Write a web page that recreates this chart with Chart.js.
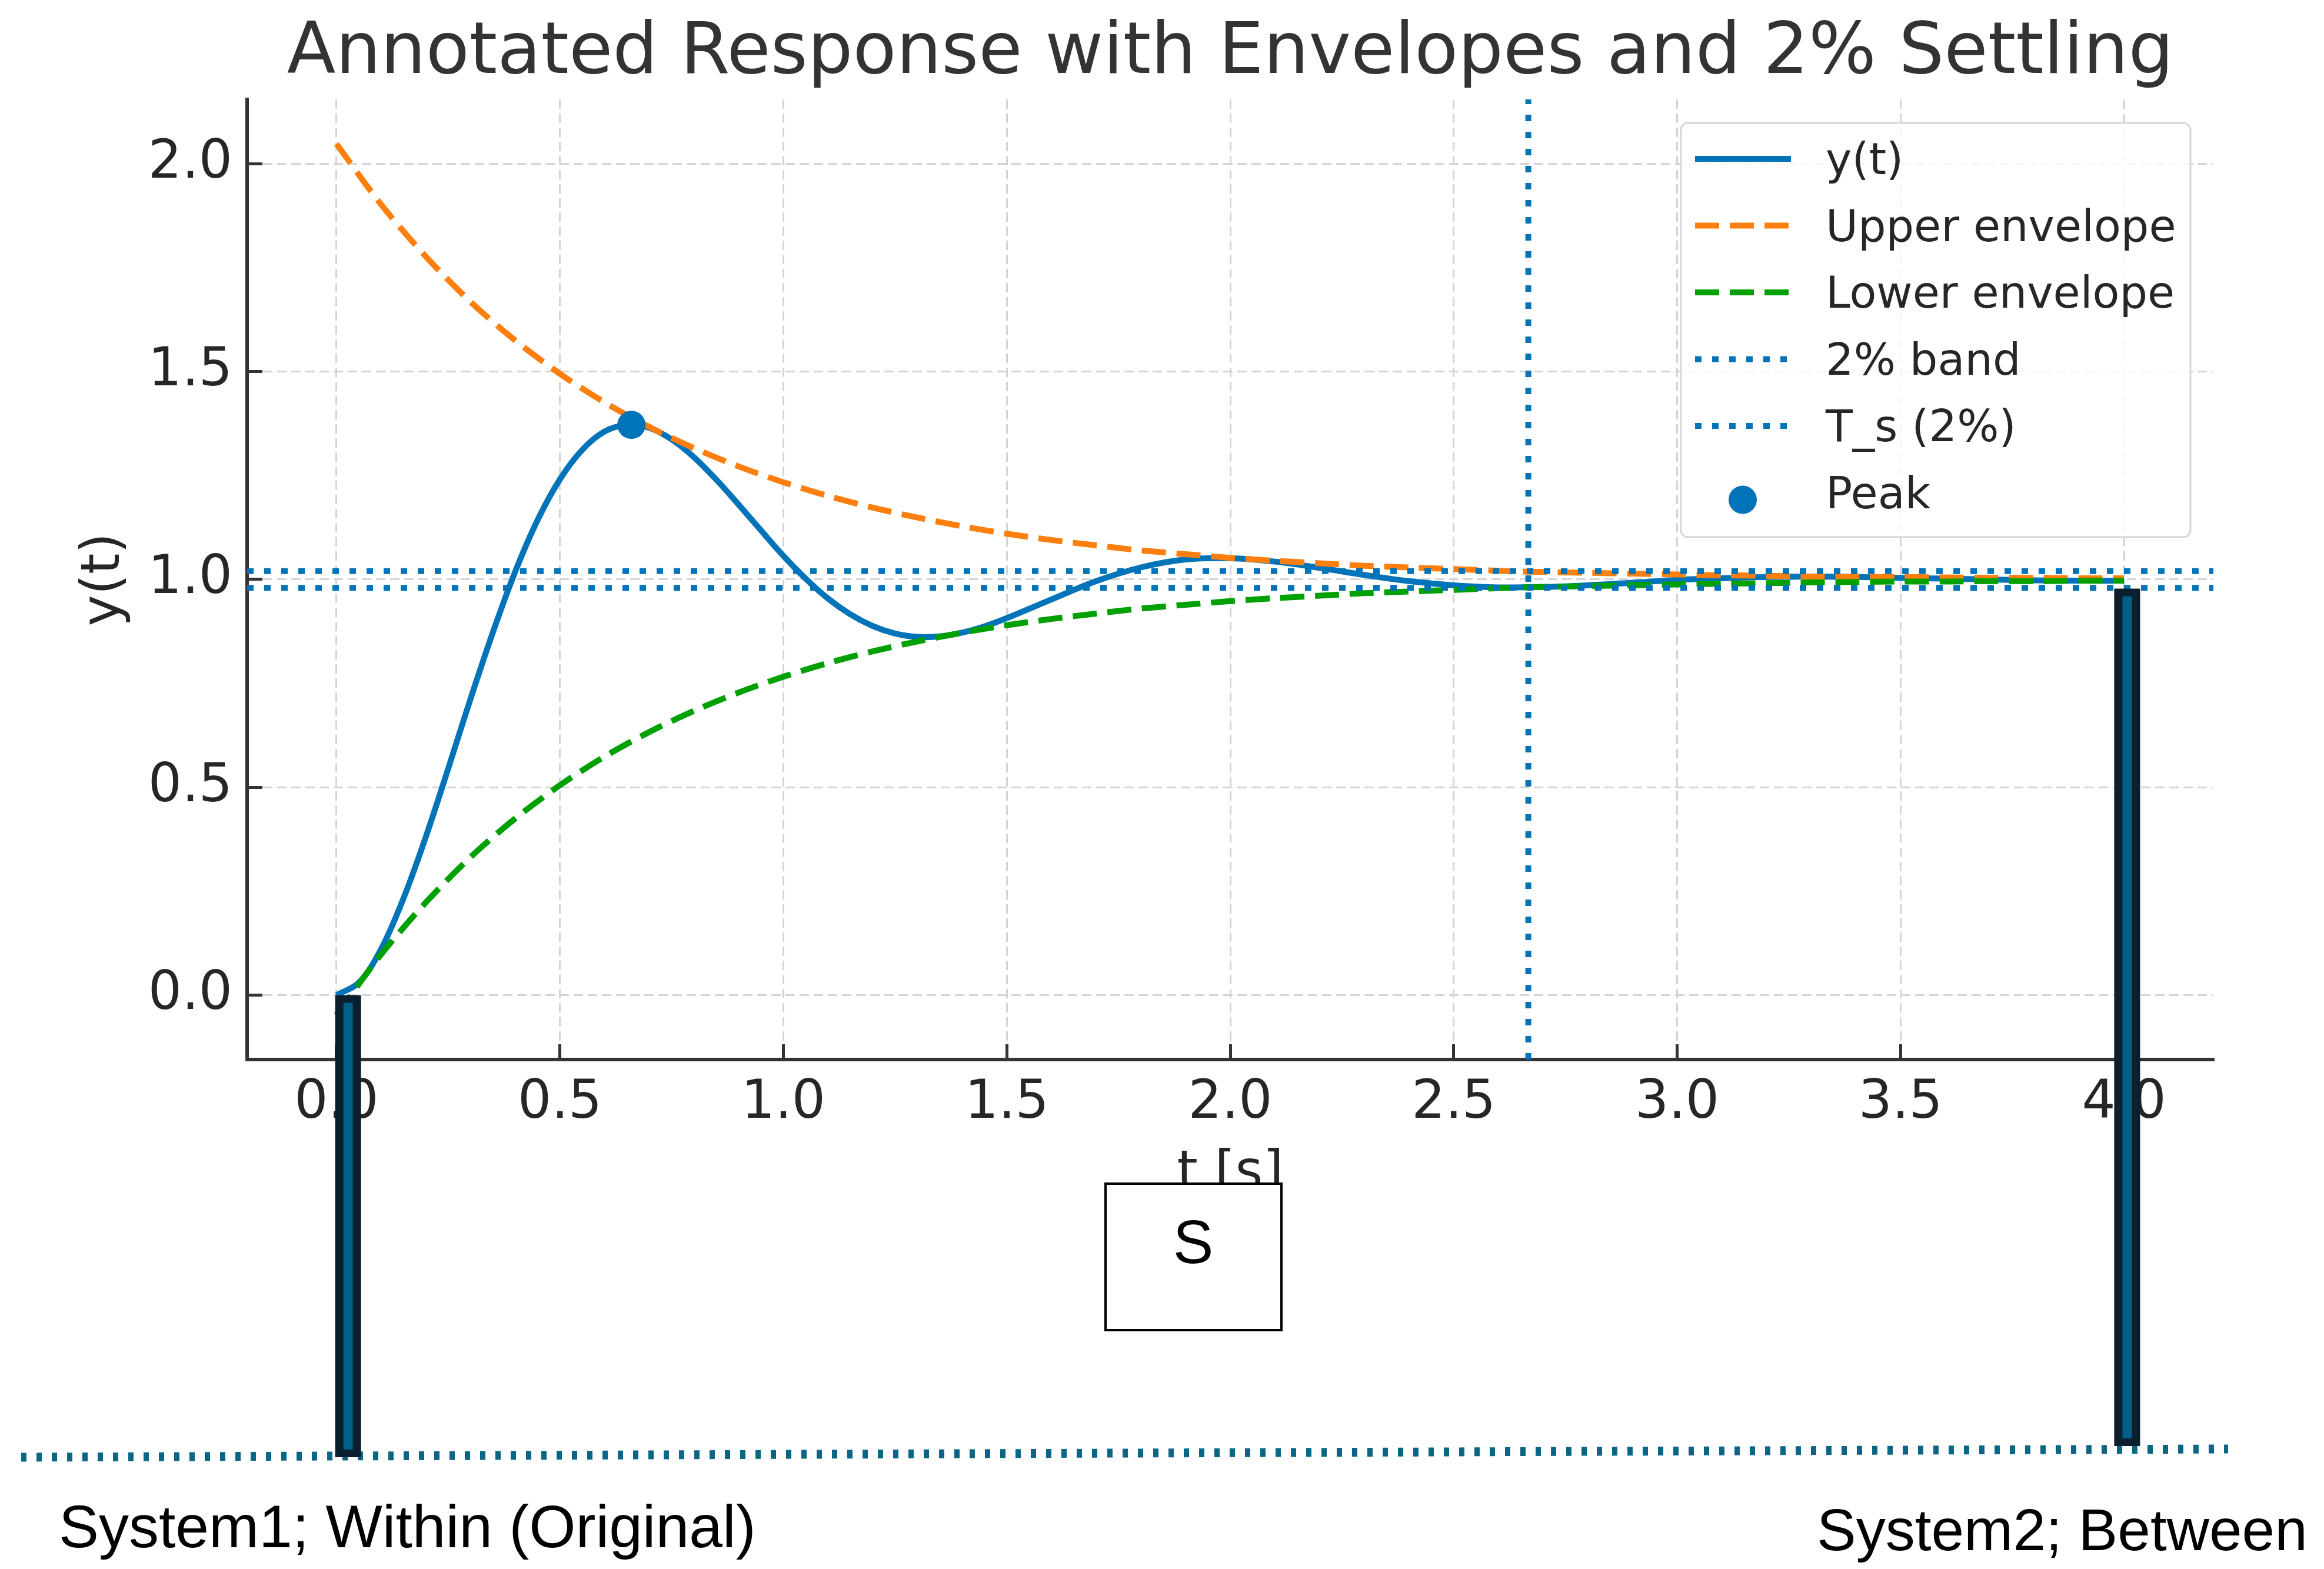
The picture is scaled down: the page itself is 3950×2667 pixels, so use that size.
<!DOCTYPE html>
<html>
<head>
<meta charset="utf-8">
<title>Annotated Response with Envelopes and 2% Settling</title>
<script src="https://cdn.jsdelivr.net/npm/chart.js@4.4.1/dist/chart.umd.min.js"></script>
<style>
  html, body { margin: 0; padding: 0; background: #fff; }
  canvas { display: block; }
</style>
</head>
<body>
<canvas id="chart" width="3950" height="2667"></canvas>
<script>
// response (finer steps where it bends hardest)
const tResp = [0.0, 0.05, 0.1, 0.15, 0.2, 0.25, 0.3, 0.35, 0.4, 0.45,
  0.5, 0.55, 0.6, 0.65, 0.7, 0.75, 0.8, 0.85, 0.9, 0.95,
  1.0, 1.05, 1.1, 1.15, 1.2, 1.25, 1.3, 1.35, 1.4, 1.45,
  1.5, 1.6, 1.7, 1.8, 1.9, 2.0, 2.1, 2.2, 2.3, 2.4,
  2.5, 2.6, 2.7, 2.8, 2.9, 3.0, 3.1, 3.2, 3.3, 3.4,
  3.5, 3.6, 3.7, 3.8, 3.9, 4.0];
const yValues = [0.000, 0.030, 0.111, 0.233, 0.381, 0.545, 0.713, 0.873, 1.019, 1.143,
  1.241, 1.312, 1.356, 1.372, 1.365, 1.337, 1.294, 1.240, 1.180, 1.118,
  1.057, 1.002, 0.954, 0.916, 0.888, 0.870, 0.862, 0.863, 0.872, 0.887,
  0.907, 0.952, 0.996, 1.029, 1.048, 1.051, 1.043, 1.028, 1.011, 0.996,
  0.986, 0.981, 0.982, 0.986, 0.992, 0.999, 1.003, 1.006, 1.007, 1.006,
  1.004, 1.002, 1.000, 0.998, 0.997, 0.997];

// envelopes (step 0.1 s)
const tEnv = [0.0, 0.1, 0.2, 0.3, 0.4, 0.5, 0.6, 0.7, 0.8, 0.9,
  1.0, 1.1, 1.2, 1.3, 1.4, 1.5, 1.6, 1.7, 1.8, 1.9,
  2.0, 2.1, 2.2, 2.3, 2.4, 2.5, 2.6, 2.7, 2.8, 2.9,
  3.0, 3.1, 3.2, 3.3, 3.4, 3.5, 3.6, 3.7, 3.8, 3.9, 4.0];
const upperEnv = [2.048, 1.902, 1.777, 1.668, 1.575, 1.495, 1.426, 1.367, 1.316, 1.272,
  1.234, 1.201, 1.173, 1.149, 1.128, 1.110, 1.095, 1.082, 1.070, 1.061,
  1.052, 1.045, 1.039, 1.033, 1.029, 1.025, 1.021, 1.018, 1.016, 1.014,
  1.012, 1.010, 1.009, 1.007, 1.006, 1.006, 1.005, 1.004, 1.004, 1.003, 1.003];
const lowerEnv = [-0.048, 0.098, 0.223, 0.332, 0.425, 0.505, 0.574, 0.633, 0.684, 0.728,
  0.766, 0.799, 0.827, 0.851, 0.872, 0.890, 0.905, 0.918, 0.930, 0.939,
  0.948, 0.955, 0.961, 0.967, 0.971, 0.975, 0.979, 0.982, 0.984, 0.986,
  0.988, 0.990, 0.991, 0.993, 0.994, 0.995, 0.995, 0.996, 0.996, 0.997, 0.997];
const bandLevels = [0.98, 1.02];
const settlingT = [2.667];
const peakT = [0.66];
const peakY = [1.372];

const xRange = [-0.2, 4.2];
const yRange = [-0.155, 2.155];
const xTicks = [0, 0.5, 1, 1.5, 2, 2.5, 3, 3.5, 4];
const yTicks = [0, 0.5, 1, 1.5, 2];

const BLUE = '#0173B8';
const ORANGE = '#FF7F0E';
const GREEN = '#00A000';
const GRID = '#d4d4d4';
const INK = '#262626';
const TITLE = 'Annotated Response with Envelopes and 2% Settling';

Chart.defaults.font.family = '"DejaVu Sans", sans-serif';

const toPoints = (xs, ys) => xs.map((x, i) => ({ x: x, y: ys[i] }));

// title centred over the axes, like matplotlib does it
const axesTitle = {
  id: 'axesTitle',
  afterDraw(chart) {
    const { ctx, chartArea } = chart;
    ctx.save();
    ctx.font = '121px "DejaVu Sans"';
    ctx.fillStyle = '#333';
    ctx.textAlign = 'center';
    ctx.textBaseline = 'alphabetic';
    ctx.fillText(TITLE, (chartArea.left + chartArea.right) / 2, 124);
    ctx.restore();
  }
};

// framed legend, upper right
const boxLegend = {
  id: 'boxLegend',
  afterDatasetsDraw(chart) {
    const ctx = chart.ctx;
    const items = chart.data.datasets.filter(d => d.label);
    ctx.save();
    ctx.beginPath();
    ctx.roundRect(2857, 209, 866, 704, 12);
    ctx.fillStyle = 'rgba(255,255,255,0.8)';
    ctx.fill();
    ctx.lineWidth = 3;
    ctx.strokeStyle = '#d6d6d6';
    ctx.stroke();

    ctx.font = '75px "DejaVu Sans"';
    ctx.textBaseline = 'middle';
    items.forEach((d, i) => {
      const cy = 270 + i * 113.5;
      if (d.showLine === false) {
        ctx.beginPath();
        ctx.arc(2962, cy + 12, d.pointRadius, 0, Math.PI * 2);
        ctx.fillStyle = d.pointBackgroundColor;
        ctx.fill();
      } else {
        ctx.beginPath();
        ctx.setLineDash(d.borderDash || []);
        ctx.lineWidth = d.borderWidth;
        ctx.strokeStyle = d.borderColor;
        ctx.moveTo(2881, cy);
        ctx.lineTo(3044, cy);
        ctx.stroke();
        ctx.setLineDash([]);
      }
      ctx.fillStyle = INK;
      ctx.fillText(d.label, 3103, cy + 7);
    });
    ctx.restore();
  }
};

// the extra marks pasted over the figure
const overlay = {
  id: 'overlay',
  afterDraw(chart) {
    const ctx = chart.ctx;
    const xs = chart.scales.x, ys = chart.scales.y;
    ctx.save();

    ctx.strokeStyle = '#0b6585';
    ctx.lineWidth = 15;
    ctx.setLineDash([9, 17]);
    ctx.beginPath();
    ctx.moveTo(36, 2477);
    ctx.lineTo(3787, 2463);
    ctx.stroke();
    ctx.setLineDash([]);

    [[0.026, 0, 2477], [4.007, 0.978, 2458]].forEach(([t, v, bottom]) => {
      const cx = xs.getPixelForValue(t);
      const ty = ys.getPixelForValue(v);
      ctx.fillStyle = '#0b1f2e';
      ctx.fillRect(cx - 22, ty, 44, bottom - ty);
      ctx.fillStyle = '#005f86';
      ctx.fillRect(cx - 8, ty + 13, 16, bottom - ty - 26);
    });

    ctx.fillStyle = '#fff';
    ctx.fillRect(1879, 2012, 299, 249);
    ctx.lineWidth = 4;
    ctx.strokeStyle = '#000';
    ctx.strokeRect(1879, 2012, 299, 249);

    ctx.fillStyle = '#000';
    ctx.textBaseline = 'alphabetic';
    ctx.textAlign = 'center';
    ctx.font = '103px "Liberation Sans"';
    ctx.fillText('S', 2028, 2147);

    ctx.textAlign = 'left';
    ctx.font = '102px "Liberation Sans"';
    ctx.fillText('System1; Within (Original)', 100, 2630);
    ctx.font = '100px "Liberation Sans"';
    ctx.fillText('System2; Between', 3088, 2635);
    ctx.restore();
  }
};

new Chart(document.getElementById('chart'), {
  type: 'line',
  data: {
    datasets: [
      {
        label: 'y(t)',
        data: toPoints(tResp, yValues),
        borderColor: BLUE,
        borderWidth: 10,
        pointRadius: 0,
        tension: 0.35,
        order: 6
      },
      {
        label: 'Upper envelope',
        data: toPoints(tEnv, upperEnv),
        borderColor: ORANGE,
        borderWidth: 10,
        borderDash: [41, 18],
        pointRadius: 0,
        tension: 0.3,
        order: 5
      },
      {
        label: 'Lower envelope',
        data: toPoints(tEnv, lowerEnv),
        borderColor: GREEN,
        borderWidth: 10,
        borderDash: [41, 18],
        pointRadius: 0,
        tension: 0.3,
        order: 4
      },
      {
        label: '2% band',
        data: [
          { x: xRange[0], y: bandLevels[1] }, { x: xRange[1], y: bandLevels[1] },
          { x: xRange[1], y: null },
          { x: xRange[0], y: bandLevels[0] }, { x: xRange[1], y: bandLevels[0] }
        ],
        borderColor: BLUE,
        borderWidth: 10,
        borderDash: [11, 18],
        pointRadius: 0,
        spanGaps: false,
        order: 3
      },
      {
        label: 'T_s (2%)',
        data: [{ x: settlingT[0], y: yRange[0] }, { x: settlingT[0], y: yRange[1] }],
        borderColor: BLUE,
        borderWidth: 10,
        borderDash: [11, 18],
        pointRadius: 0,
        order: 2
      },
      {
        label: 'Peak',
        data: toPoints(peakT, peakY),
        showLine: false,
        pointRadius: 24,
        pointBackgroundColor: BLUE,
        pointBorderWidth: 0,
        order: 1
      }
    ]
  },
  options: {
    responsive: false,
    maintainAspectRatio: false,
    devicePixelRatio: 1,
    animation: false,
    layout: { padding: { left: 0, right: 188, top: 169, bottom: 614 } },
    plugins: {
      legend: { display: false },
      tooltip: { enabled: false },
      title: { display: false }
    },
    scales: {
      x: {
        type: 'linear',
        min: xRange[0],
        max: xRange[1],
        afterBuildTicks: s => { s.ticks = xTicks.map(v => ({ value: v })); },
        afterFit: s => { s.height = 252; },
        ticks: {
          callback: v => Number(v).toFixed(1),
          color: INK,
          font: { size: 90 },
          padding: 48,
          maxRotation: 0,
          minRotation: 0,
          autoSkip: false
        },
        grid: { color: GRID, lineWidth: 3, tickLength: -26, tickColor: '#333', tickWidth: 5 },
        border: { color: '#333', width: 6, dash: [16, 8] },
        title: {
          display: true,
          text: 't [s]',
          color: INK,
          font: { size: 90, lineHeight: 1 },
          padding: { top: 0, bottom: 11 }
        }
      },
      y: {
        type: 'linear',
        min: yRange[0],
        max: yRange[1],
        afterBuildTicks: s => { s.ticks = yTicks.map(v => ({ value: v })); },
        afterFit: s => { s.width = 420; },
        ticks: {
          callback: v => Number(v).toFixed(1),
          color: INK,
          font: { size: 90 },
          padding: 51
        },
        grid: { color: GRID, lineWidth: 3, tickLength: -26, tickColor: '#333', tickWidth: 5 },
        border: { color: '#333', width: 6, dash: [16, 8] },
        title: {
          display: true,
          text: 'y(t)',
          color: INK,
          font: { size: 90, lineHeight: 1 },
          padding: { top: 134, bottom: 0 }
        }
      }
    }
  },
  plugins: [boxLegend, overlay, axesTitle]
});
</script>
</body>
</html>
